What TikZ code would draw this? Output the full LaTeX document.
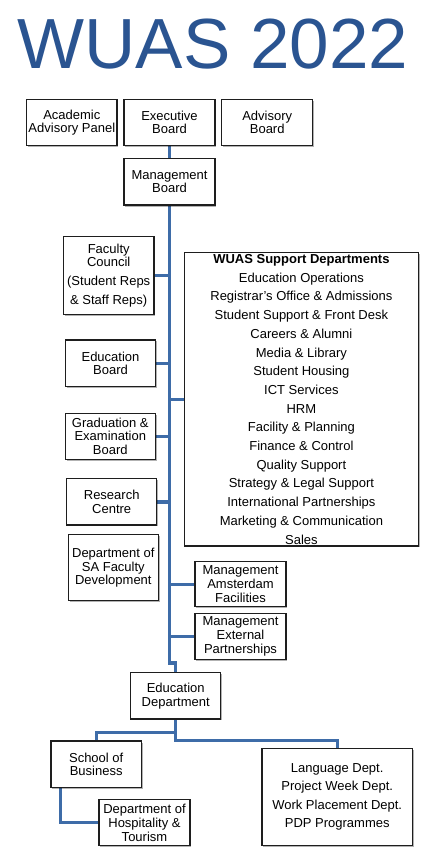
\documentclass[tikz,border=0pt]{standalone}
\usepackage{fontspec}
\setmainfont{Liberation Sans}
\usetikzlibrary{shadows,backgrounds}
\definecolor{titleblue}{RGB}{42,84,145}
\definecolor{linkblue}{RGB}{62,108,168}
\definecolor{boxline}{RGB}{30,30,30}
\begin{document}
\begin{tikzpicture}[x=1pt,y=-1pt,
  orgbox/.style={draw=boxline, line width=1.2pt, fill=white, inner sep=0pt, align=center,
    font=\fontsize{13}{13.7}\selectfont,
    drop shadow={shadow xshift=1.3pt, shadow yshift=-1.5pt, opacity=0.3, fill=black}},
  link/.style={draw=linkblue, line width=3.4pt}]
\useasboundingbox (0,0) rectangle (441,850);

\node[font=\fontsize{71}{71}\selectfont, text=titleblue, anchor=base, inner sep=0pt] (title) at (212.8,68.3) {WUAS 2022};

\node[orgbox, minimum width=90.3pt, minimum height=46.4pt] (acad) at (71.85,122.5) {Academic\\Advisory Panel};
\node[orgbox, minimum width=91pt, minimum height=46.4pt] (exec) at (169.5,122.5) {Executive\\Board};
\node[orgbox, minimum width=91pt, minimum height=46.4pt] (adv) at (267.2,122.5) {Advisory\\Board};
\node[orgbox, minimum width=91pt, minimum height=46.7pt] (mgmt) at (169.5,181.7) {Management\\Board};

\node[orgbox, minimum width=90.7pt, minimum height=77.6pt] (fac) at (108.7,275.5) {Faculty\\Council\\[4.6pt](Student Reps\\[5.5pt]\& Staff Reps)};
\node[orgbox, minimum width=90.4pt, minimum height=46.7pt] (edb) at (110.5,363.3) {Education\\Board};
\node[orgbox, minimum width=90pt, minimum height=46pt] (grad) at (110.3,436.3) {Graduation \&\\Examination\\Board};
\node[orgbox, minimum width=90pt, minimum height=46.3pt] (res) at (111.7,501.8) {Research\\Centre};
\node[orgbox, minimum width=90pt, minimum height=66pt] (sa) at (113.3,567.7) {Department of\\SA Faculty\\Development};

\node[orgbox, minimum width=233.8pt, minimum height=293.3pt, font=\fontsize{13}{18.7}\selectfont] (wuas) at (301.4,399.3)
  {\textbf{WUAS Support Departments}\\Education Operations\\Registrar’s Office \& Admissions\\Student Support \& Front Desk\\Careers \& Alumni\\Media \& Library\\Student Housing\\ICT Services\\HRM\\Facility \& Planning\\Finance \& Control\\Quality Support\\Strategy \& Legal Support\\International Partnerships\\Marketing \& Communication\\Sales};

\node[orgbox, minimum width=91pt, minimum height=45pt] (maf) at (240.5,584.2) {Management\\Amsterdam\\Facilities};
\node[orgbox, minimum width=91pt, minimum height=46pt] (mep) at (240.5,636.3) {Management\\External\\Partnerships};

\node[orgbox, minimum width=90pt, minimum height=46.3pt] (edd) at (175.7,695.8) {Education\\Department};
\node[orgbox, minimum width=90.3pt, minimum height=46.3pt] (sob) at (96.2,764.2) {School of\\Business};
\node[orgbox, minimum width=91pt, minimum height=46pt] (dht) at (144.5,822.7) {Department of\\Hospitality \&\\Tourism};
\node[orgbox, minimum width=150.3pt, minimum height=97.4pt, font=\fontsize{13}{18.5}\selectfont] (lang) at (337.2,797)
  {Language Dept.\\Project Week Dept.\\Work Placement Dept.\\PDP Programmes};

\coordinate (jog) at (175.7,663);
\begin{scope}[on background layer]
\draw[link] (exec.south) -- (mgmt.north);
\draw[link] (mgmt.south) -- (mgmt.south |- jog) -- (jog) -- (edd.north);
\draw[link] (fac.east) -- (fac.east -| mgmt.south);
\draw[link] (edb.east) -- (edb.east -| mgmt.south);
\draw[link] (wuas.west) -- (wuas.west -| mgmt.south);
\draw[link] (grad.east) -- (grad.east -| mgmt.south);
\draw[link] (res.east) -- (res.east -| mgmt.south);
\draw[link] (maf.west) -- (maf.west -| mgmt.south);
\draw[link] (mep.west) -- (mep.west -| mgmt.south);
\draw[link] (edd.south) -- ++(0,12.7) -| (sob.north);
\draw[link] (edd.south) -- ++(0,21) -| (lang.north);
\draw[link] ([xshift=-36pt]sob.south) |- (dht.west);
\end{scope}
\end{tikzpicture}
\end{document}
